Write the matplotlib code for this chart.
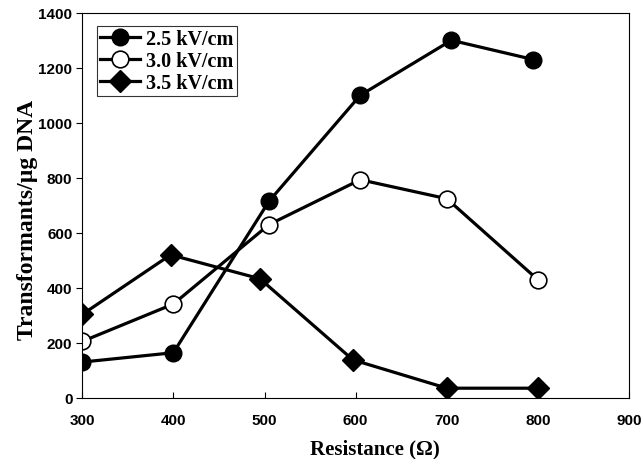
import matplotlib
matplotlib.use("Agg")
import matplotlib.pyplot as plt

# values
x_25 = [300, 400, 505, 605, 705, 795]
y_25 = [130, 164, 715, 1100, 1300, 1230]
x_30 = [300, 400, 505, 605, 700, 800]
y_30 = [205, 341, 630, 793, 724, 429]
x_35 = [300, 397, 495, 597, 700, 800]
y_35 = [303, 520, 433, 138, 35, 35]

labels = ["2.5 kV/cm", "3.0 kV/cm", "3.5 kV/cm"]
xticks = [300, 400, 500, 600, 700, 800, 900]
yticks = [0, 200, 400, 600, 800, 1000, 1200, 1400]

serif = "Liberation Serif"
sans = "Liberation Sans"

fig = plt.figure(figsize=(6.42, 4.60), dpi=100)
ax = fig.add_axes([0.128, 0.133, 0.852, 0.837])

lw = 2.3
ms = 12
ax.plot(x_25, y_25, color="black", lw=lw, marker="o", ms=ms,
        mfc="black", mec="black", label=labels[0])
ax.plot(x_30, y_30, color="black", lw=lw, marker="o", ms=ms,
        mfc="white", mec="black", mew=1.2, label=labels[1])
ax.plot(x_35, y_35, color="black", lw=lw, marker="D", ms=11.5,
        mfc="black", mec="black", label=labels[2])

ax.set_xlim(300, 900)
ax.set_ylim(0, 1400)
ax.set_xticks(xticks)
ax.set_yticks(yticks)
ax.tick_params(axis="x", direction="in", length=4, pad=11)
ax.tick_params(axis="y", direction="out", length=4, pad=3)
for t in ax.get_xticklabels() + ax.get_yticklabels():
    t.set_fontfamily(sans)
    t.set_fontweight("bold")
    t.set_fontsize(11)

for s in ax.spines.values():
    s.set_linewidth(0.8)
    s.set_color("black")

ax.set_xlabel("Resistance (Ω)", fontfamily=serif, fontweight="bold",
              fontsize=15, va="center")
ax.xaxis.set_label_coords(0.536, -0.132)
ax.set_ylabel("Transformants/µg DNA", fontfamily=serif, fontweight="bold",
              fontsize=17, va="center")
ax.yaxis.set_label_coords(-0.1, 0.465)

leg = ax.legend(loc="upper left", bbox_to_anchor=(0.027, 0.966),
                prop={"family": serif, "weight": "bold", "size": 14.5},
                frameon=True, fancybox=False, edgecolor="black",
                borderpad=0.15, labelspacing=0.1, handlelength=2.0,
                handletextpad=0.3, borderaxespad=0.0)
leg.get_frame().set_linewidth(0.8)

fig.savefig("out.png", dpi=100)
